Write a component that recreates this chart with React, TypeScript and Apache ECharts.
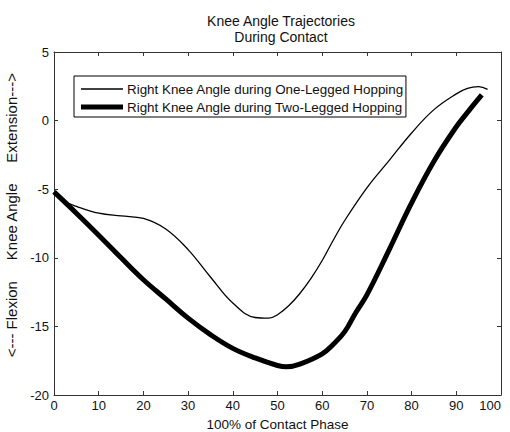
import React, { useEffect, useRef } from "react";
import * as echarts from "echarts";

const oneLegX = [0, 2.5, 5, 10, 15, 20, 25, 30, 35, 40, 45, 48, 50, 52.5, 55, 57.5, 60, 62.5, 65, 70, 75, 80, 85, 90, 92.5, 95, 97];
const oneLegY = [-5.2, -5.9, -6.25, -6.75, -6.95, -7.13, -7.9, -9.4, -11.4, -13.3, -14.35, -14.4, -14.15, -13.5, -12.6, -11.5, -10.2, -8.7, -7.3, -4.9, -2.9, -0.9, 0.8, 1.95, 2.35, 2.47, 2.28];

const twoLegX = [0, 5, 10, 15, 20, 25, 30, 35, 40, 45, 50, 52, 55, 60, 62.5, 65, 67.5, 70, 75, 80, 85, 90, 93, 95.7];
const twoLegY = [-5.2, -6.75, -8.35, -10.0, -11.6, -13.0, -14.4, -15.6, -16.6, -17.3, -17.85, -17.95, -17.75, -17.0, -16.3, -15.4, -14.0, -12.7, -9.4, -6.0, -2.96, -0.45, 0.8, 1.87];

const seriesNames = [
  "Right Knee Angle during One-Legged Hopping",
  "Right Knee Angle during Two-Legged Hopping",
];

const xTicks = [0, 10, 20, 30, 40, 50, 60, 70, 80, 90, 100];
const yTicks = [-20, -15, -10, -5, 0, 5];

const FONT = "Liberation Sans, Arial, sans-serif";
const AXIS_COLOR = "#333";
const TEXT_COLOR = "#111";

const thinIcon = "path://M0,0 M0,14 M0,6.35 L42,6.35 L42,7.65 L0,7.65 Z";
const thickIcon = "path://M0,0 M0,14 M0,4.5 L42,4.5 L42,9.5 L0,9.5 Z";

export default function App() {
  const ref = useRef<HTMLDivElement>(null);
  useEffect(() => {
    if (!ref.current) return;
    const chart = echarts.init(ref.current, undefined, { renderer: "svg" });
    const axisCommon = {
      axisLine: { show: true, onZero: false, lineStyle: { color: AXIS_COLOR, width: 1 } },
      axisTick: { show: true, inside: true, length: 4, lineStyle: { color: AXIS_COLOR } },
      splitLine: { show: false },
    };
    chart.setOption({
      animation: false,
      textStyle: { fontFamily: FONT },
      title: {
        text: "Knee Angle Trajectories\nDuring Contact",
        left: 276,
        textAlign: "center",
        top: 8,
        textStyle: { fontSize: 14, fontWeight: "normal", color: TEXT_COLOR, lineHeight: 16, fontFamily: FONT },
      },
      legend: {
        orient: "vertical",
        left: 74,
        top: 76,
        padding: [6, 2, 3, 7],
        itemWidth: 42,
        itemHeight: 14,
        itemGap: 4,
        symbolKeepAspect: false,
        borderColor: "#000",
        borderWidth: 1,
        backgroundColor: "#fff",
        textStyle: { fontSize: 13.4, color: TEXT_COLOR, fontFamily: FONT, padding: [0, 0, 0, -1] },
        data: [
          { name: seriesNames[0], icon: thinIcon, itemStyle: { color: "#000" } },
          { name: seriesNames[1], icon: thickIcon, itemStyle: { color: "#000" } },
        ],
      },
      grid: { left: 54, right: 9, top: 52, bottom: 37, containLabel: false, outerBoundsMode: "none" },
      xAxis: [
        {
          type: "value",
          min: xTicks[0],
          max: xTicks[xTicks.length - 1],
          interval: 10,
          position: "bottom",
          ...axisCommon,
          axisLabel: { fontSize: 13, color: TEXT_COLOR, margin: 4, fontFamily: FONT, alignMaxLabel: "right" },
          name: "100% of Contact Phase",
          nameLocation: "middle",
          nameGap: 22,
          nameTextStyle: { fontSize: 13.5, color: TEXT_COLOR, fontFamily: FONT },
        },
        {
          type: "value",
          min: xTicks[0],
          max: xTicks[xTicks.length - 1],
          interval: 10,
          position: "top",
          ...axisCommon,
          axisLabel: { show: false },
        },
      ],
      yAxis: [
        {
          type: "value",
          min: yTicks[0],
          max: yTicks[yTicks.length - 1],
          interval: 5,
          position: "left",
          ...axisCommon,
          axisLabel: { fontSize: 13, color: TEXT_COLOR, margin: 5, fontFamily: FONT },
          name: "    <--- Flexion     Knee Angle     Extension--->",
          nameLocation: "middle",
          nameGap: 32,
          nameTextStyle: { fontSize: 15, color: TEXT_COLOR, fontFamily: FONT },
        },
        {
          type: "value",
          min: yTicks[0],
          max: yTicks[yTicks.length - 1],
          interval: 5,
          position: "right",
          ...axisCommon,
          axisLabel: { show: false },
        },
      ],
      series: [
        {
          name: seriesNames[0],
          type: "line",
          smooth: 0.4,
          symbol: "none",
          xAxisIndex: 0,
          yAxisIndex: 0,
          lineStyle: { color: "#000", width: 1.3 },
          itemStyle: { color: "#000" },
          data: oneLegX.map((x, i) => [x, oneLegY[i]]),
        },
        {
          name: seriesNames[1],
          type: "line",
          smooth: 0.4,
          symbol: "none",
          xAxisIndex: 0,
          yAxisIndex: 0,
          lineStyle: { color: "#000", width: 5 },
          itemStyle: { color: "#000" },
          data: twoLegX.map((x, i) => [x, twoLegY[i]]),
        },
      ],
    });
    return () => chart.dispose();
  }, []);
  return <div ref={ref} style={{ width: 510, height: 432, position: "absolute", left: 0, top: 0, background: "#fff" }} />;
}
